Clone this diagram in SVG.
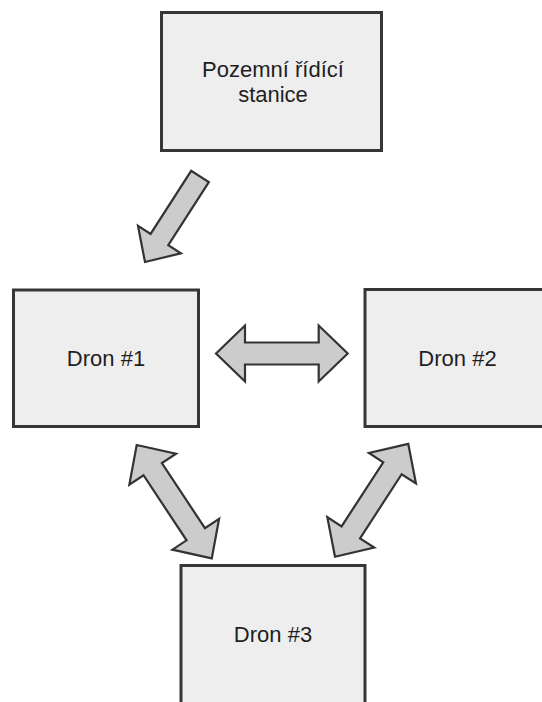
<svg xmlns="http://www.w3.org/2000/svg" width="542" height="702" viewBox="0 0 542 702">
  <style>
    .box { fill: #eeeeee; stroke: #363636; stroke-width: 3; }
    .lbl { font-family: "Liberation Sans", Arial, sans-serif; font-size: 22px; fill: #1f1f1f; text-anchor: middle; }
    .arr { fill: #cccccc; stroke: #333333; stroke-width: 2.2; stroke-linejoin: miter; }
  </style>
  <rect width="542" height="702" fill="#ffffff"/>
  <g id="gcs">
    <rect class="box" x="161.5" y="12.5" width="220" height="138"/>
    <text class="lbl" x="273" y="77">Pozemní řídící</text>
    <text class="lbl" x="273" y="102">stanice</text>
  </g>
  <g id="dron1">
    <rect class="box" x="13.5" y="290" width="185" height="136.5"/>
    <text class="lbl" x="106" y="366">Dron #1</text>
  </g>
  <g id="dron2">
    <rect class="box" x="365" y="289.5" width="186" height="137"/>
    <text class="lbl" x="457.5" y="366">Dron #2</text>
  </g>
  <g id="dron3">
    <rect class="box" x="181" y="565.5" width="184" height="142"/>
    <text class="lbl" x="273" y="642">Dron #3</text>
  </g>
  <g id="connectors">
    <path class="arr" transform="translate(200,176.5) rotate(122.75)" d="M0,-10.5 L75,-10.5 L75,-25.5 L101.7,0 L75,25.5 L75,10.5 L0,10.5 Z"/>
    <path class="arr" transform="translate(216,353.5)" d="M0,0 L29,-28 L29,-11 L102.7,-11 L102.7,-28 L131.7,0 L102.7,28 L102.7,11 L29,11 L29,28 Z"/>
    <path class="arr" transform="translate(136.7,445) rotate(56.5)" d="M0,0 L29,-28 L29,-11 L107,-11 L107,-28 L136,0 L107,28 L107,11 L29,11 L29,28 Z"/>
    <path class="arr" transform="translate(335,556.7) rotate(-57)" d="M0,0 L29,-28 L29,-11 L105.5,-11 L105.5,-28 L134.5,0 L105.5,28 L105.5,11 L29,11 L29,28 Z"/>
  </g>
</svg>
